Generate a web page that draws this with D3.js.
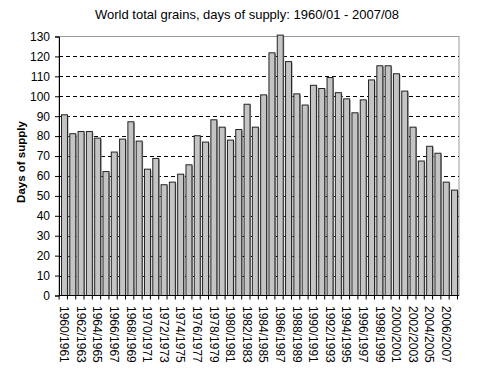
<!DOCTYPE html>
<html><head><meta charset="utf-8">
<script src="https://cdn.jsdelivr.net/npm/d3@7"></script>
<style>body{margin:0;background:#fff}svg{display:block}text{font-family:Arial,"Liberation Sans",sans-serif}</style>
</head><body><svg id="c" width="480" height="373"></svg>
<script>
const years = d3.range(1960, 2008).map(y => y + "/" + (y + 1));
const days = [90.7,81.2,82.3,82.3,79.0,62.2,72.0,78.5,87.2,77.5,63.4,68.8,55.6,56.9,60.9,65.6,
  80.2,77.0,88.2,84.5,78.0,83.3,96.0,84.5,100.7,121.8,130.7,117.4,101.2,95.6,105.5,103.9,
  109.4,101.8,98.7,91.7,98.2,108.2,115.3,115.3,111.3,102.6,84.5,67.5,74.9,71.4,56.9,52.9];
const yTicks = d3.range(0, 131, 10);
const title = "World total grains, days of supply: 1960/01 - 2007/08";
const yTitle = "Days of supply";

const svg = d3.select("#c");
const L = 59, R = 459, T = 36.5, B = 295.5;
const x = d3.scaleBand().domain(years).range([L, 460]).paddingInner(0.28).paddingOuter(0.3);
const y = d3.scaleLinear().domain([0, 130]).range([B, T]);

// plot border
svg.append("rect").attr("x", L).attr("y", T).attr("width", R - L).attr("height", B - T)
  .attr("fill", "none").attr("stroke", "#999").attr("stroke-width", 1);

// grid
svg.append("g").selectAll("line").data(yTicks.filter(v => v > 0 && v < 130)).join("line")
  .attr("x1", L).attr("x2", R).attr("y1", d => Math.round(y(d)) + 0.5).attr("y2", d => Math.round(y(d)) + 0.5)
  .attr("stroke", "#000").attr("stroke-dasharray", "4,3");

// bars shadow + bars
const g = svg.append("g");
g.selectAll("rect.s").data(days).join("rect").attr("class", "s")
  .attr("x", (d, i) => x(years[i]) + 1).attr("y", d => y(d) + 1)
  .attr("width", x.bandwidth()).attr("height", d => B - y(d) - 1)
  .attr("fill", "#999");
g.selectAll("rect.b").data(days).join("rect").attr("class", "b")
  .attr("x", (d, i) => x(years[i])).attr("y", d => y(d))
  .attr("width", x.bandwidth()).attr("height", d => B - y(d))
  .attr("fill", "#c4c4c4").attr("stroke", "#222").attr("stroke-width", 1);

// y axis
const ya = svg.append("g").attr("transform", `translate(${L},0)`)
  .call(d3.axisLeft(y).tickValues(yTicks).tickSize(4).tickPadding(5).tickFormat(d3.format("d")));
ya.select(".domain").attr("stroke", "#000");
ya.selectAll("text").attr("font-size", 12).attr("fill", "#000").style("font-family", "Arial, 'Liberation Sans', sans-serif");

// x axis line + ticks at band boundaries
svg.append("line").attr("x1", L).attr("x2", R).attr("y1", B).attr("y2", B).attr("stroke", "#000");
const step = x.step();
svg.append("g").selectAll("line").data(d3.range(years.length + 1)).join("line")
  .attr("x1", i => x(years[0]) - step * 0.14 + i * step - 1.2).attr("x2", i => x(years[0]) - step * 0.14 + i * step - 1.2)
  .attr("y1", B).attr("y2", B + 4).attr("stroke", "#000");

// x labels (every other)
svg.append("g").selectAll("text").data(years.filter((d, i) => i % 2 === 0)).join("text")
  .attr("transform", d => `translate(${x(d) + x.bandwidth() / 2},${306}) rotate(90)`)
  .attr("dy", "0.35em").attr("font-size", 12).text(d => d);

// titles
svg.append("text").attr("x", 247).attr("y", 19).attr("text-anchor", "middle")
  .attr("font-size", 13).text(title);
svg.append("text").attr("transform", "translate(25,162) rotate(-90)").attr("text-anchor", "middle")
  .attr("font-size", 11.5).attr("font-weight", "bold").text(yTitle);
</script></body></html>
